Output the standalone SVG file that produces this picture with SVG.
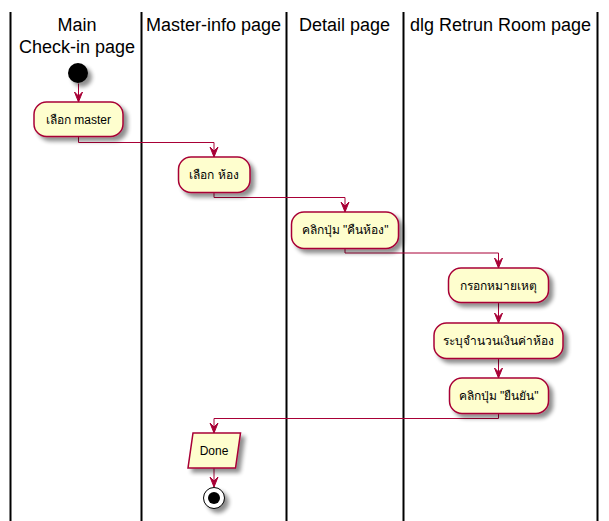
<svg xmlns="http://www.w3.org/2000/svg" width="609" height="521" viewBox="0 0 609 521">
<style>
.lane{stroke:#000000;stroke-width:2;fill:none}
.hdr{font-family:"Liberation Sans",Arial,sans-serif;font-size:18px;fill:#000000;text-anchor:middle}
.act{fill:#FEFECE;stroke:#A80036;stroke-width:1.5}
.lbl{font-family:"Liberation Sans","DejaVu Sans","Noto Sans",sans-serif;font-size:12px;fill:#000000;text-anchor:middle}
.conn{fill:none;stroke:#A80036;stroke-width:1}
</style>
<defs>
<filter id="sh" x="-20%" y="-20%" width="160%" height="160%">
<feGaussianBlur in="SourceAlpha" stdDeviation="2"/>
<feOffset dx="4" dy="4" result="b"/>
<feComponentTransfer><feFuncA type="linear" slope="0.45"/></feComponentTransfer>
<feMerge><feMergeNode/><feMergeNode in="SourceGraphic"/></feMerge>
</filter>
<marker id="ah" viewBox="0 0 10 10" refX="10" refY="5" markerWidth="10" markerHeight="10" markerUnits="userSpaceOnUse" orient="auto">
<polygon points="0,1 10,5 0,9 4,5" fill="#A80036" stroke="#A80036" stroke-width="1"/>
</marker>
</defs>
<g id="lanes">
<line class="lane" x1="10.5" y1="12" x2="10.5" y2="521"/>
<line class="lane" x1="141.5" y1="12" x2="141.5" y2="521"/>
<line class="lane" x1="286.5" y1="12" x2="286.5" y2="521"/>
<line class="lane" x1="403.5" y1="12" x2="403.5" y2="521"/>
<line class="lane" x1="597.5" y1="12" x2="597.5" y2="521"/>
<text class="hdr" x="77" y="31">Main</text>
<text class="hdr" x="77" y="53">Check-in page</text>
<text class="hdr" x="213.5" y="31">Master-info page</text>
<text class="hdr" x="344.5" y="31">Detail page</text>
<text class="hdr" x="500.5" y="31">dlg Retrun Room page</text>
</g>
<g id="connectors">
<path class="conn" d="M78.5,83.5 L78.5,102" marker-end="url(#ah)"/>
<path class="conn" d="M78.5,136.5 L78.5,142.5 L214,142.5 L214,157" marker-end="url(#ah)"/>
<path class="conn" d="M214,192.5 L214,197.5 L345,197.5 L345,212" marker-end="url(#ah)"/>
<path class="conn" d="M345,248.5 L345,253 L498.5,253 L498.5,268" marker-end="url(#ah)"/>
<path class="conn" d="M498.5,302.5 L498.5,323" marker-end="url(#ah)"/>
<path class="conn" d="M498.5,358.5 L498.5,378" marker-end="url(#ah)"/>
<path class="conn" d="M498.5,413.5 L498.5,418.5 L214,418.5 L214,433" marker-end="url(#ah)"/>
<path class="conn" d="M214,468 L214,487" marker-end="url(#ah)"/>
</g>
<g id="start">
<circle cx="78" cy="73" r="10" fill="#000000" filter="url(#sh)"/>
</g>
<g id="a1">
<rect class="act" x="34" y="102" width="89" height="34.5" rx="12.5" filter="url(#sh)"/>
<text class="lbl" x="78.5" y="124">เลือก master</text>
</g>
<g id="a2">
<rect class="act" x="178.5" y="157" width="71.5" height="35.5" rx="12.5" filter="url(#sh)"/>
<text class="lbl" x="214" y="179">เลือก ห้อง</text>
</g>
<g id="a3">
<rect class="act" x="291.5" y="212" width="107" height="36.5" rx="12.5" filter="url(#sh)"/>
<text class="lbl" x="345" y="234">คลิกปุ่ม "คืนห้อง"</text>
</g>
<g id="a4">
<rect class="act" x="448.5" y="268" width="100" height="34.5" rx="12.5" filter="url(#sh)"/>
<text class="lbl" x="498.5" y="290">กรอกหมายเหตุ</text>
</g>
<g id="a5">
<rect class="act" x="434" y="323" width="129" height="35.5" rx="12.5" filter="url(#sh)"/>
<text class="lbl" x="498.5" y="345">ระบุจำนวนเงินค่าห้อง</text>
</g>
<g id="a6">
<rect class="act" x="449.5" y="378" width="99" height="35.5" rx="12.5" filter="url(#sh)"/>
<text class="lbl" x="498.5" y="400">คลิกปุ่ม "ยืนยัน"</text>
</g>
<g id="done">
<polygon class="act" points="193,433 240.5,433 235.5,468 188,468" filter="url(#sh)"/>
<text class="lbl" x="214" y="455">Done</text>
</g>
<g id="end">
<circle cx="214" cy="498" r="10.5" fill="#FFFFFF" stroke="#000000" stroke-width="1" filter="url(#sh)"/>
<circle cx="214" cy="498" r="6" fill="#000000"/>
</g>
</svg>
